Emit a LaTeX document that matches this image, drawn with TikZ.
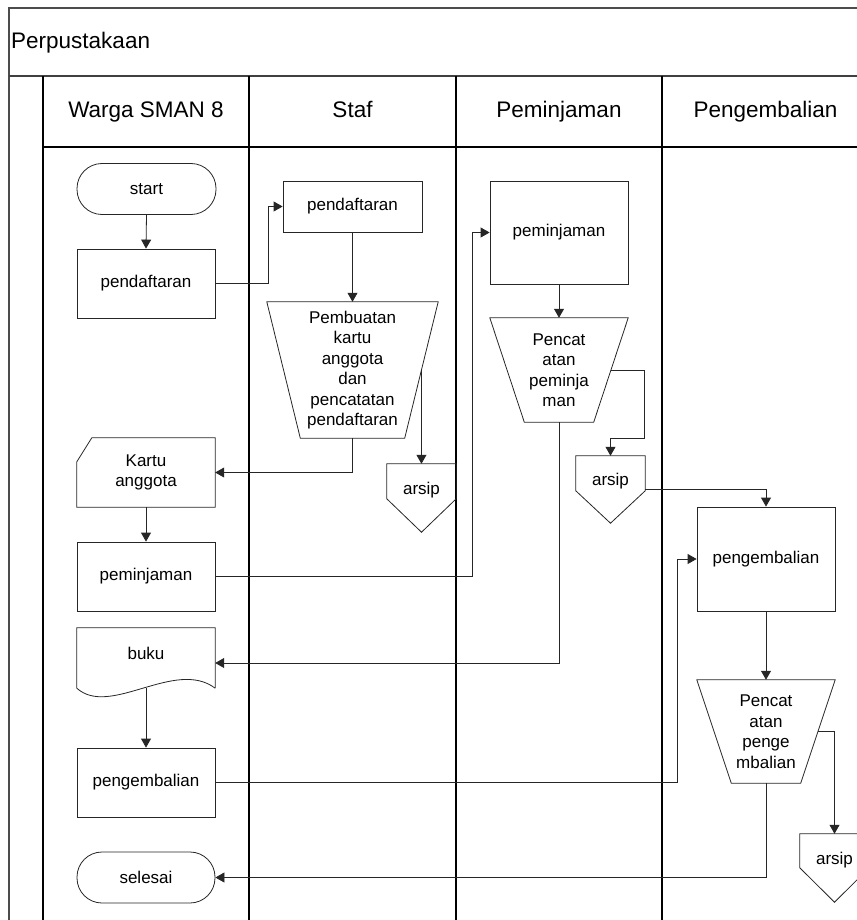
\documentclass[tikz,border=0pt]{standalone}
\usepackage{fontspec}
\setmainfont{Liberation Sans}
\usetikzlibrary{arrows.meta,calc}

\begin{document}
\begin{tikzpicture}[x=1pt,y=-1pt,
  lane/.style={line width=1.1pt, draw=black},
  frame/.style={line width=1.2pt, draw=black!70},
  shp/.style={draw=black!85, line width=0.8pt},
  body/.style={font=\fontsize{17}{20.5}\selectfont},
  box/.style={shp, body, rectangle, inner sep=0pt, align=center},
  ghost/.style={body, rectangle, inner sep=0pt, align=center},
  term/.style={box, rounded corners=25pt},
  arr/.style={draw=black!85, line width=0.8pt, -{Triangle[length=9pt,width=10pt]}},
  hd/.style={font=\fontsize{22.5}{27}\selectfont, inner sep=0pt}
]
\useasboundingbox (0,0) rectangle (856,920);

% frame and lanes
\draw[frame] (9,921) -- (9,8) -- (860,8);
\draw[line width=1.8pt, draw=black!75] (9,76) -- (860,76);
\draw[lane] (43,147) -- (860,147);
\foreach \x in {43,249,456,662} \draw[lane] (\x,76) -- (\x,921);

\node[hd, anchor=base west] (title) at (11,49) {Perpustakaan};
\node[hd, anchor=base] (h1) at (146,118) {Warga SMAN 8};
\node[hd, anchor=base] (h2) at (352.5,118) {Staf};
\node[hd, anchor=base] (h3) at (559,118) {Peminjaman};
\node[hd, anchor=base] (h4) at (765.5,118) {Pengembalian};

% lane 1
\node[term, minimum width=139pt, minimum height=51pt] (start) at (146.5,189) {start};
\node[box, minimum width=138pt, minimum height=69pt] (pend1) at (146,283.5) {pendaftaran};
\node[ghost, minimum width=138pt, minimum height=69pt] (kartu) at (146,472.5) {Kartu\\anggota};
\draw[shp] ($(kartu.north west)+(15,0)$) -- (kartu.north east) -- (kartu.south east) -- (kartu.south west) -- ($(kartu.north west)+(0,24)$) -- cycle;
\node[box, minimum width=138pt, minimum height=69pt] (pinjam1) at (146,576.5) {peminjaman};
\node[ghost, minimum width=138pt, minimum height=60pt, label={[ghost,yshift=5pt]center:buku}] (buku) at (146,658) {};
\draw[shp] (buku.south east) -- (buku.north east) -- (buku.north west) -- (buku.south west) .. controls (110,718) and (175,658) .. (buku.south east);
\node[box, minimum width=138pt, minimum height=69pt] (kemb1) at (146,782.5) {pengembalian};
\node[term, minimum width=138pt, minimum height=51pt] (selesai) at (146,877.5) {selesai};

% lane 2
\node[box, minimum width=139pt, minimum height=51pt] (pend2) at (352.5,206.5) {pendaftaran};
\node[ghost, minimum width=171pt, minimum height=136pt] (trap2) at (352.5,370) {Pembuatan\\kartu\\anggota\\dan\\pencatatan\\pendaftaran};
\coordinate (t2c) at ($(trap2.south east)+(-33.5,0)$);
\draw[shp] (trap2.north west) -- (trap2.north east) -- (t2c) -- ($(trap2.south west)+(33.5,0)$) -- cycle;
\coordinate (t2r) at ($(trap2.north east)!0.5!(t2c)$);
\node[ghost, minimum width=69pt, minimum height=68pt, label={[ghost,yshift=8pt]center:arsip}] (arsip2) at (421.5,498) {};
\draw[shp] (arsip2.north west) -- (arsip2.north east) -- ($(arsip2.north east)+(0,35)$) -- (arsip2.south) -- ($(arsip2.north west)+(0,35)$) -- cycle;

% lane 3
\node[box, minimum width=138pt, minimum height=103pt] (pinjam3) at (559,232.5) {peminjaman};
\node[ghost, minimum width=138pt, minimum height=104pt] (trap3) at (559,370) {Pencat\\atan\\peminja\\man};
\coordinate (t3c) at ($(trap3.south east)+(-34.5,0)$);
\draw[shp] (trap3.north west) -- (trap3.north east) -- (t3c) -- ($(trap3.south west)+(34.5,0)$) -- cycle;
\coordinate (t3r) at ($(trap3.north east)!0.5!(t3c)$);
\node[ghost, minimum width=69pt, minimum height=67pt, label={[ghost,yshift=8pt]center:arsip}] (arsip3) at (610.5,489.5) {};
\draw[shp] (arsip3.north west) -- (arsip3.north east) -- ($(arsip3.north east)+(0,35)$) -- (arsip3.south) -- ($(arsip3.north west)+(0,35)$) -- cycle;

% lane 4
\node[box, minimum width=138pt, minimum height=104pt] (kemb4) at (766,559) {pengembalian};
\node[ghost, minimum width=138pt, minimum height=103pt] (trap4) at (766,731.5) {Pencat\\atan\\penge\\mbalian};
\coordinate (t4c) at ($(trap4.south east)+(-34.5,0)$);
\draw[shp] (trap4.north west) -- (trap4.north east) -- (t4c) -- ($(trap4.south west)+(34.5,0)$) -- cycle;
\coordinate (t4r) at ($(trap4.north east)!0.5!(t4c)$);
\node[ghost, minimum width=69pt, minimum height=68pt, label={[ghost,yshift=8pt]center:arsip}] (arsip4) at (834.5,868) {};
\draw[shp] (arsip4.north west) -- (arsip4.north east) -- ($(arsip4.north east)+(0,34)$) -- (arsip4.south) -- ($(arsip4.north west)+(0,34)$) -- cycle;

% connectors
\draw[arr] (start.south) -- (pend1.north);
\draw[arr] (pend1.east) -- ++(53,0) |- (pend2.west);
\draw[arr] (pend2.south) -- (trap2.north);
\draw[arr] (t2r) -- (t2r |- arsip2.north);
\draw[arr] (trap2.south) |- (kartu.east);
\draw[arr] (kartu.south) -- (pinjam1.north);
\draw[arr] (pinjam1.east) -- ++(257,0) |- (pinjam3.west);
\draw[arr] (pinjam3.south) -- (trap3.north);
\draw[arr] (t3r) -- ++(33.5,0) |- ($(arsip3.north)+(0,-17)$) -- (arsip3.north);
\draw[arr] (trap3.south) |- ($(buku.east)+(0,5)$);
\draw[arr] ($(arsip3.north east)+(0,34)$) -| (kemb4.north);
\draw[arr] (buku.south) -- (kemb1.north);
\draw[arr] (kemb1.east) -- ++(462,0) |- (kemb4.west);
\draw[arr] (kemb4.south) -- (trap4.north);
\draw[arr] (t4r) -| (arsip4.north);
\draw[arr] (trap4.south) |- (selesai.east);
\end{tikzpicture}
\end{document}
